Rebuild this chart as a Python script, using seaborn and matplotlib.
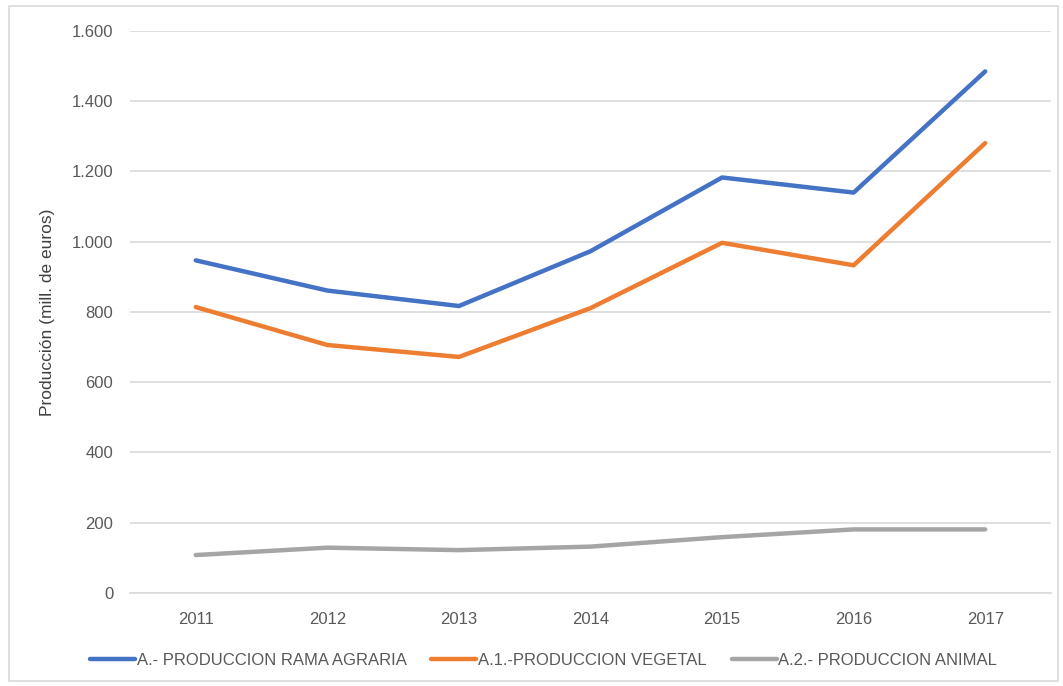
import pandas as pd
import numpy as np
import matplotlib
matplotlib.use("Agg")
import matplotlib.pyplot as plt
import seaborn as sns
from matplotlib.ticker import FuncFormatter
from matplotlib.patches import Rectangle

years = [2011, 2012, 2013, 2014, 2015, 2016, 2017]
rama_agraria = [947, 861, 817, 973, 1183, 1140, 1485]
vegetal = [814, 706, 672, 811, 997, 933, 1281]
animal = [108, 129, 122, 132, 159, 181, 181]
series_names = ["A.- PRODUCCION RAMA AGRARIA", "A.1.-PRODUCCION VEGETAL", "A.2.- PRODUCCION ANIMAL"]
colors = ["#4472C4", "#ED7D31", "#A5A5A5"]

sns.set_theme(style="white")
plt.rcParams["font.family"] = ["Liberation Sans Narrow", "Liberation Sans", "DejaVu Sans"]

df = pd.DataFrame({
    "year": years * 3,
    "value": rama_agraria + vegetal + animal,
    "serie": [series_names[0]] * 7 + [series_names[1]] * 7 + [series_names[2]] * 7,
})

fig = plt.figure(figsize=(10.63, 6.86), dpi=100)
ax = fig.add_axes([0.1223, 0.1356, 0.8664, 0.8192])

sns.lineplot(data=df, x="year", y="value", hue="serie", palette=dict(zip(series_names, colors)),
             linewidth=3.2, ax=ax)

ax.set_xlim(2010.5, 2017.5)
ax.set_ylim(0, 1600)
ax.set_yticks(np.arange(0, 1601, 200))
ax.set_xticks(years)
ax.yaxis.set_major_formatter(FuncFormatter(lambda v, p: f"{int(v):,}".replace(",", ".")))
ax.grid(axis="y", color="#D9D9D9", linewidth=1.2)
ax.set_axisbelow(True)
for s in ["top", "right", "left"]:
    ax.spines[s].set_visible(False)
ax.spines["bottom"].set_color("#D9D9D9")
ax.spines["bottom"].set_linewidth(1.2)
ax.tick_params(axis="both", length=0, labelsize=12, colors="#595959", pad=12)
ax.tick_params(axis="x", pad=14)
ax.set_xlabel("")
ax.set_ylabel("Producción (mill. de euros)", fontsize=12.5, color="#404040", labelpad=12)

# legend below the plot, in one row
ax.legend(loc="center", bbox_to_anchor=(0.449, -0.12), ncol=3, frameon=False,
          fontsize=12, handlelength=2.7, handletextpad=0.1, columnspacing=1.5,
          labelcolor="#595959")

# thin frame around the whole chart
fig.patches.append(Rectangle((0.008, 0.008), 0.987, 0.983, transform=fig.transFigure,
                             fill=False, edgecolor="#D9D9D9", linewidth=1.2))

fig.savefig("out.png", dpi=100)
